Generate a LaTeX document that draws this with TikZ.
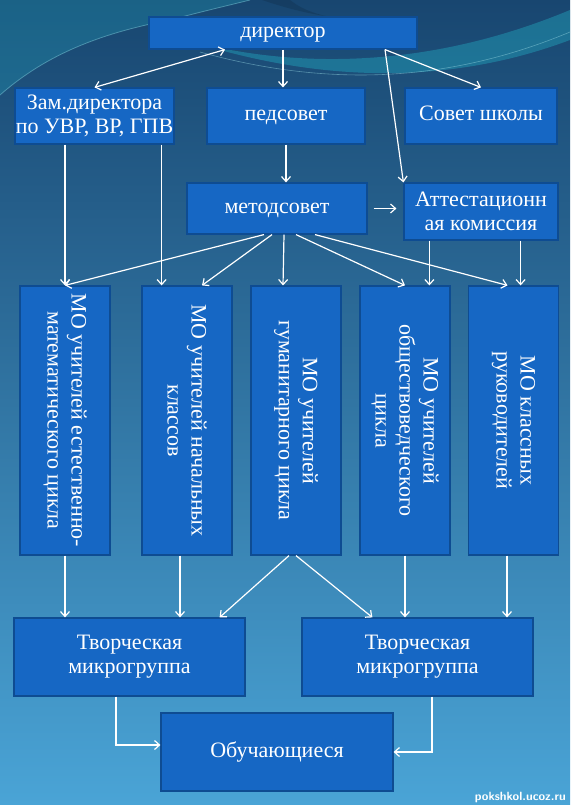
\documentclass[tikz,border=0pt]{standalone}
\usepackage{fontspec}
\setmainfont{Liberation Serif}
\usepackage{xcolor}
\usetikzlibrary{positioning,arrows.meta,calc}
\definecolor{bgtop}{HTML}{184670}
\definecolor{bgmid}{HTML}{2B6C9C}
\definecolor{bgbot}{HTML}{4AA4D6}
\definecolor{swoosh}{HTML}{22A4BC}
\definecolor{boxfill}{HTML}{1667C4}
\definecolor{boxedge}{HTML}{0E4C92}

\begin{document}
\begin{tikzpicture}[x=1pt,y=-1pt,>={Straight Barb[length=5pt,width=9pt]}]
\tikzstyle{every node}+=[inner sep=0pt]
\tikzstyle{box}=[draw=boxedge,fill=boxfill,line width=1.2pt,text=white,align=center,font=\fontsize{22}{24}\selectfont]
\tikzstyle{one}=[text height=12pt,text depth=2pt]
\tikzstyle{mobox}=[box,minimum width=90,minimum height=269]
\tikzstyle{motext}=[rotate=-90,text=white,align=center,font=\fontsize{22}{24}\selectfont]
\tikzstyle{link}=[draw=white,line width=1.2pt,->]
% background
\shade[top color=bgtop,middle color=bgmid,bottom color=bgbot] (0,0) rectangle (570,805);
\useasboundingbox (0,0) rectangle (570,805);
\fill[swoosh,opacity=.3] (0,0) -- (0,95) .. controls (40,60) and (90,35) .. (170,20) .. controls (200,12) and (230,5) .. (250,0) -- cycle;
\draw[swoosh!60!white,opacity=.5,line width=.8pt] (0,95) .. controls (40,60) and (90,35) .. (170,20) .. controls (200,12) and (230,5) .. (250,0);
\fill[swoosh,opacity=.45] (220,48) .. controls (330,70) and (450,60) .. (570,10) -- (570,40) .. controls (450,85) and (330,80) .. (220,50) -- cycle;
\draw[swoosh!50!white,opacity=.5,line width=.6pt] (200,52) .. controls (330,88) and (450,82) .. (570,32);
\fill[bgtop!70!black,opacity=.4] (262,0) -- (290,0) .. controls (300,8) and (310,12) .. (325,16) .. controls (300,12) and (280,6) .. (262,0) -- cycle;
% boxes
\node[box,one,minimum width=268,minimum height=32] (dir) at (283,33) {директор};
\node[box,minimum width=159,minimum height=56] (zam) at (94.5,116) {Зам.директора\\по УВР, ВР, ГПВ};
\node[box,one,minimum width=158,minimum height=56] (ped) at (286,116) {педсовет};
\node[box,one,minimum width=152,minimum height=56] (sovet) at (481,116) {Совет школы};
\node[box,one,minimum width=180,minimum height=51] (metod) at (277,208.5) {методсовет};
\node[box,minimum width=154,minimum height=57] (attest) at (481,211.5) {Аттестационн\\ая комиссия};
\node[mobox] (mo1) at (65,420.5) {};
\node[motext] (mo1t) at (mo1) {МО учителей естественно-\\математического цикла};
\node[mobox] (mo2) at (187,420.5) {};
\node[motext] (mo2t) at (mo2) {МО учителей начальных\\классов};
\node[mobox] (mo3) at (296,420.5) {};
\node[motext] (mo3t) at (mo3) {МО учителей\\гуманитарного цикла};
\node[mobox] (mo4) at (405,420.5) {};
\node[motext] (mo4t) at (mo4) {МО учителей\\обществоведческого\\цикла};
\node[mobox] (mo5) at (513.5,420.5) {};
\node[motext] (mo5t) at (mo5) {МО классных\\руководителей};
\node[box,minimum width=231,minimum height=78] (tv1) at (129.5,657) {Творческая\\микрогруппа};
\node[box,minimum width=231,minimum height=78] (tv2) at (417.5,657) {Творческая\\микрогруппа};
\node[box,one,minimum width=232,minimum height=78] (ob) at (277,752) {Обучающиеся};
\node[font=\bfseries\sffamily\fontsize{12}{12}\selectfont,text=white,anchor=south east] (mark) at (566,803) {pokshkol.ucoz.ru};
% helper points
\coordinate (zamr) at ([xshift=-13pt]zam.south east);
\coordinate (atl) at ([xshift=26pt]attest.south west);
\coordinate (atr) at ([xshift=-38pt]attest.south east);
\coordinate (mo2s) at ([xshift=-7pt]mo2.south);
\coordinate (mo5s) at ([xshift=-6.5pt]mo5.south);
% connectors
\draw[link,<->] ([xshift=-58pt]dir.south) -- (zam.north);
\draw[link] (dir.south) -- (dir.south |- ped.north);
\draw[link] ([xshift=102pt]dir.south) -- (sovet.north);
\draw[link] ([xshift=102pt]dir.south) -- (attest.north west);
\draw[link] (ped.south) -- (ped.south |- metod.north);
\draw[link,shorten <=6pt,shorten >=7pt] (metod.east) -- (metod.east -| attest.west);
\draw[link] (zam.south -| mo1.north) -- (mo1.north);
\draw[link] (zamr) -- (zamr |- mo2.north);
\draw[link] ([xshift=-13pt]metod.south) -- (mo1.north);
\draw[link] ([xshift=-5pt]metod.south) -- ([xshift=15pt]mo2.north);
\draw[link] ([xshift=7pt]metod.south) -- ([xshift=-13pt]mo3.north);
\draw[link] ([xshift=19pt]metod.south) -- (mo4.north);
\draw[link] ([xshift=38pt]metod.south) -- ([xshift=-6pt]mo5.north);
\draw[link] (atl) -- (atl |- mo4.north);
\draw[link] (atr) -- (atr |- mo5.north);
\draw[link] (mo1.south) -- (mo1.south |- tv1.north);
\draw[link] (mo2s) -- (mo2s |- tv1.north);
\draw[link] ([xshift=-7pt]mo3.south) -- ([xshift=-26pt]tv1.north east);
\draw[link] (mo3.south) -- ([xshift=71pt]tv2.north west);
\draw[link] (mo4.south) -- (mo4.south |- tv2.north);
\draw[link] (mo5s) -- (mo5s |- tv2.north);
\draw[link] ([xshift=-13.5pt]tv1.south) |- ([yshift=7pt]ob.west);
\draw[link] ([xshift=14.5pt]tv2.south) |- (ob.east);
\end{tikzpicture}
\end{document}
